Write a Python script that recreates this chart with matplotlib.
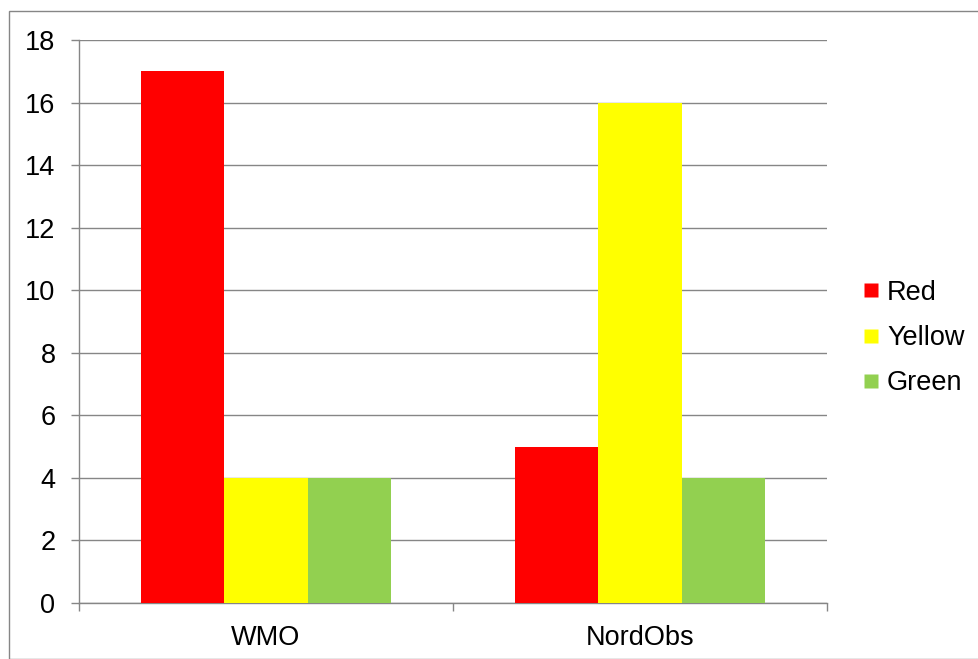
import matplotlib.pyplot as plt
from matplotlib.lines import Line2D
from matplotlib.patches import Rectangle
import numpy as np

plt.rcParams['font.family'] = ['Liberation Sans', 'DejaVu Sans']

categories = ["WMO", "NordObs"]
series_names = ["Red", "Yellow", "Green"]
red_vals = [17, 5]
yellow_vals = [4, 16]
green_vals = [4, 4]
colors = ["#FF0000", "#FFFF00", "#92D050"]
y_ticks = [0, 2, 4, 6, 8, 10, 12, 14, 16, 18]

fig = plt.figure(figsize=(9.79, 6.59), dpi=100)
ax = fig.add_axes([79 / 979, 56 / 659, 748 / 979, 563 / 659])

x = np.arange(len(categories))
w = 0.223
for i, (vals, col) in enumerate(zip([red_vals, yellow_vals, green_vals], colors)):
    ax.bar(x + (i - 1) * w, vals, width=w, color=col, edgecolor="none", zorder=3)

grid_col = "#868686"
fs = 19.5
ax.set_ylim(0, 18)
ax.set_xlim(-0.5, 1.5)
ax.set_yticks(y_ticks)
ax.yaxis.grid(True, color=grid_col, linewidth=1.0, zorder=0)
ax.set_axisbelow(True)

ax.set_xticks([-0.5, 0.5, 1.5])
ax.set_xticklabels([])
ax.set_xticks(x, minor=True)
ax.set_xticklabels(categories, minor=True)
ax.tick_params(axis="x", which="major", length=6, color=grid_col, width=1.0)
ax.tick_params(axis="x", which="minor", length=0, pad=16, labelsize=fs)
ax.tick_params(axis="y", length=6, color=grid_col, width=1.0, pad=11, labelsize=fs)

for s in ["top", "right"]:
    ax.spines[s].set_visible(False)
for s in ["left", "bottom"]:
    ax.spines[s].set_color(grid_col)
    ax.spines[s].set_linewidth(1.0)

handles = [Line2D([], [], marker="s", linestyle="none", markersize=9.5,
                  markerfacecolor=c, markeredgecolor="none") for c in colors]
fig.legend(handles, series_names, loc="center left", bbox_to_anchor=(864 / 979, 1 - 338 / 659),
           frameon=False, fontsize=fs, handlelength=0.55, handletextpad=0.3,
           labelspacing=0.72, borderpad=0, borderaxespad=0)

fig.patches.append(Rectangle((9 / 979, 0), 1 - 9 / 979 - 0.5 / 979, 1 - 11 / 659,
                             transform=fig.transFigure, fill=False,
                             edgecolor=grid_col, linewidth=1.0))

fig.savefig("out.png", dpi=100)
